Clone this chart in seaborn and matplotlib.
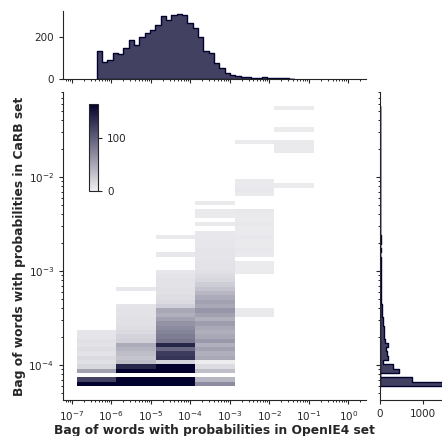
import numpy as np
import pandas as pd
import matplotlib.pyplot as plt
from matplotlib.ticker import LogLocator, NullFormatter
import seaborn as sns

# ---------------------------------------------------------------- data ----
color = "#03012d"

# joint histogram bins, in log10 space
x_edges = [-6.87, -5.87, -4.87, -3.87, -2.87, -1.87, -0.87]
y_lo, y_hi, n_ybins = -4.223, -1.241, 65

# counts of each x column, from the lowest y bin upwards
col1 = [250, 120, 0, 55, 18, 12, 16, 10, 14, 10,
        12, 9, 8]
col2 = [450, 320, 0, 200, 140, 35, 30, 35, 42, 48,
        22, 20, 16, 14, 12, 11, 10, 10, 8, 0,
        0, 0, 6]
col3 = [400, 300, 0, 200, 200, 20, 130, 125, 95, 140,
        85, 80, 75, 70, 65, 55, 45, 50, 22, 16,
        14, 12, 12, 10, 10, 8, 7, 0, 0, 0,
        6, 0, 0, 0, 5]
col4 = [70, 40, 0, 35, 15, 3, 50, 45, 55, 45,
        60, 50, 45, 50, 58, 45, 55, 62, 50, 55,
        48, 40, 32, 25, 18, 15, 12, 10, 10, 9,
        8, 8, 7, 7, 6, 6, 0, 5, 0, 5,
        5, 0, 5]
col5 = [0, 0, 0, 0, 0, 0, 0, 0, 0, 0,
        0, 0, 0, 0, 0, 0, 5, 5, 0, 0,
        0, 0, 0, 0, 0, 0, 4, 4, 4, 0,
        5, 6, 5, 5, 6, 5, 5, 6, 5, 5,
        6, 0, 0, 0, 5, 6, 5, 5, 0, 0,
        0, 0, 0, 0, 0, 0, 4]
col6 = [0, 0, 0, 0, 0, 0, 0, 0, 0, 0,
        0, 0, 0, 0, 0, 0, 0, 0, 0, 0,
        0, 0, 0, 0, 0, 0, 0, 0, 0, 0,
        0, 0, 0, 0, 0, 0, 0, 0, 0, 0,
        0, 0, 0, 0, 0, 0, 4, 0, 0, 0,
        0, 0, 0, 0, 5, 5, 5, 0, 0, 4,
        0, 0, 0, 0, 4]

# top marginal (OpenIE4), finer bins in log10 space
top_lo, top_hi = -6.37, -1.37
top_counts = [134, 80, 88, 121, 118, 145, 184, 161, 200, 216,
              231, 254, 298, 279, 302, 307, 302, 266, 241, 197,
              134, 124, 77, 50, 27, 19, 14, 11, 8, 6,
              5, 8, 5, 3, 5, 5, 2]

# right marginal (CaRB), same y bins as the joint plot
right_counts = [1440, 738, 0, 449, 309, 74, 192, 152, 129, 192,
                113, 98, 98, 82, 74, 59, 51, 44, 36, 30,
                28, 25, 30, 25, 20, 18, 16, 14, 14, 12,
                10, 12, 10, 12, 12, 10, 10, 5, 5, 5,
                5, 10, 5, 0, 5, 5, 9, 5, 0, 0,
                0, 0, 0, 0, 5, 5, 9, 0, 0, 4,
                0, 0, 0, 0, 4]

x_ticks = [1e-7, 1e-6, 1e-5, 1e-4, 1e-3, 1e-2, 1e-1, 1e0]
y_ticks = [1e-4, 1e-3, 1e-2]

# ------------------------------------------------------------- prepare ----
y_edges = np.linspace(y_lo, y_hi, n_ybins + 1)
y_mid = (y_edges[:-1] + y_edges[1:]) / 2
x_mid = (np.array(x_edges[:-1]) + np.array(x_edges[1:])) / 2

rows = []
for i, col in enumerate([col1, col2, col3, col4, col5, col6]):
    for j, c in enumerate(col):
        if c > 0:
            rows.append((10 ** x_mid[i], 10 ** y_mid[j], c))
joint = pd.DataFrame(rows, columns=["x", "y", "count"])

top_edges = np.linspace(top_lo, top_hi, len(top_counts) + 1)
top = pd.DataFrame({"x": 10 ** ((top_edges[:-1] + top_edges[1:]) / 2),
                    "count": top_counts})
right = pd.DataFrame({"y": 10 ** y_mid, "count": right_counts})

# ---------------------------------------------------------------- plot ----
sns.set_theme(style="ticks")
plt.rcParams["font.family"] = ["DejaVu Sans"]
plt.rcParams.update({
    "xtick.labelsize": 7.5, "ytick.labelsize": 7.5,
    "xtick.major.size": 3, "ytick.major.size": 3,
    "xtick.minor.size": 1.6, "ytick.minor.size": 1.6,
    "xtick.major.width": 0.8, "ytick.major.width": 0.8,
    "xtick.minor.width": 0.7, "ytick.minor.width": 0.7,
    "axes.linewidth": 0.8,
})

W, H = 442, 436
fig = plt.figure(figsize=(W / 100, H / 100), dpi=100)
ax_joint = fig.add_axes([63 / W, 36 / H, 303 / W, 308 / H])
ax_top = fig.add_axes([63 / W, 357 / H, 303 / W, 68 / H], sharex=ax_joint)
ax_right = fig.add_axes([380 / W, 36 / H, 65 / W, 308 / H], sharey=ax_joint)
cax = fig.add_axes([89 / W, 245 / H, 9 / W, 87 / H])

cmap = sns.color_palette("light:" + color, as_cmap=True)
sns.histplot(data=joint, x="x", y="y", weights="count",
             bins=[list(x_edges), list(y_edges)], log_scale=True,
             cmap=cmap, vmin=0, vmax=165,
             cbar=True, cbar_ax=cax, cbar_kws={"ticks": [0, 100]},
             ax=ax_joint)

sns.histplot(data=top, x="x", weights="count", bins=list(top_edges),
             log_scale=True, element="step", fill=True, color=color, ax=ax_top)
sns.histplot(data=right, y="y", weights="count", bins=list(y_edges),
             log_scale=True, element="step", fill=True, color=color, ax=ax_right)

ax_joint.set_xticks(x_ticks)
ax_joint.set_yticks(y_ticks)
ax_joint.xaxis.set_minor_locator(LogLocator(base=10, subs=np.arange(2, 10), numticks=100))
ax_joint.xaxis.set_minor_formatter(NullFormatter())
ax_joint.yaxis.set_minor_locator(LogLocator(base=10, subs=np.arange(2, 10), numticks=100))
ax_joint.yaxis.set_minor_formatter(NullFormatter())
ax_joint.set_xlim(10 ** -7.22, 10 ** 0.45)
ax_joint.set_ylim(10 ** -4.372, 10 ** -1.096)

ax_joint.set_xlabel("Bag of words with probabilities in OpenIE4 set",
                    fontweight="bold", fontsize=8.8, labelpad=1)
ax_joint.set_ylabel("Bag of words with probabilities in CaRB set",
                    fontweight="bold", fontsize=8.8, labelpad=1.5)

ax_top.set_yticks([0, 200])
ax_top.tick_params(labelbottom=False)
ax_top.set_xlabel("")
ax_top.set_ylabel("")
ax_right.set_xticks([0, 1000])
ax_right.tick_params(labelleft=False)
ax_right.set_xlabel("")
ax_right.set_ylabel("")

cax.tick_params(labelsize=7.5, length=3, width=0.8)

for a in [ax_joint, ax_top, ax_right]:
    sns.despine(ax=a)

fig.savefig("out.png", dpi=100)
